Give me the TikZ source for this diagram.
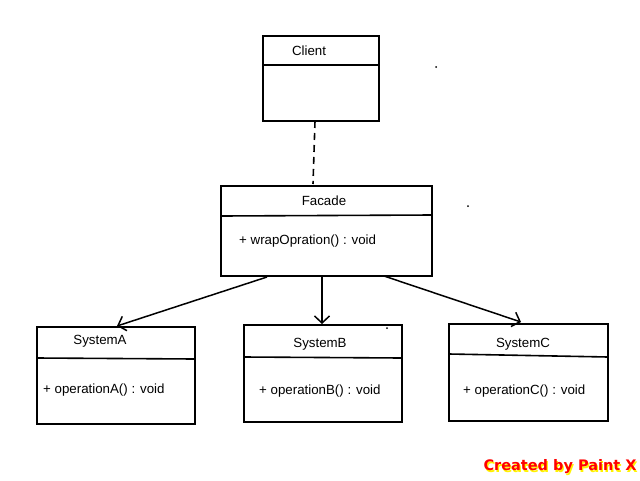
\documentclass[tikz,border=0pt]{standalone}
\usepackage{fontspec}
\setmainfont{Liberation Sans}
\newfontfamily\wmfont{DejaVu Sans}
\usetikzlibrary{arrows.meta}
\begin{document}
\begin{tikzpicture}[x=1pt,y=-1pt,
  box/.style={draw,line width=1.6pt},
  lbl/.style={font=\fontsize{13.3}{15}\selectfont,inner sep=0pt},
  arr/.style={line width=1.5pt,-{Straight Barb[length=7pt,width=15pt,line width=1.5pt]}},
  dotm/.style={fill,circle,inner sep=0pt,minimum size=2pt},
  wm/.style={font=\wmfont\bfseries\fontsize{14.5}{16}\selectfont,inner sep=0pt}]
\useasboundingbox (0,0) rectangle (640,480);
% Client
\draw[box] (263,36) rectangle (379,121);
\draw[box] (263,65) -- (379,65);
\node[lbl] (client) at (309,51) {Client};
\coordinate (cb) at (315,121);
% Facade
\draw[box] (221,186) rectangle (432,276);
\draw[box] (221,216) -- (432,215);
\node[lbl] (facade) at (324,201) {Facade};
\node[lbl,anchor=west] (wrap) at (239,241) {+ wrapOpration() : void};
\coordinate (ft) at (313,184);
% SystemA
\draw[box] (37,327) rectangle (195,424);
\draw[box] (37,358) -- (195,359);
\node[lbl] (sa) at (100,341) {SystemA};
\node[lbl,anchor=west] (opa) at (43,390) {+ operationA() : void};
% SystemB
\draw[box] (244,325) rectangle (402,422);
\draw[box] (244,357) -- (402,358);
\node[lbl] (sb) at (320,344) {SystemB};
\node[lbl,anchor=west] (opb) at (259,391) {+ operationB() : void};
% SystemC
\draw[box] (449,324) rectangle (608,421);
\draw[box] (449,354) -- (608,357);
\node[lbl] (sc) at (523,344) {SystemC};
\node[lbl,anchor=west] (opc) at (463,391) {+ operationC() : void};
% connectors
\draw[line width=1.6pt,dash pattern=on 7pt off 5pt] (cb) -- (ft);
\coordinate (fa) at (267,277);
\coordinate (fb) at (322,277);
\coordinate (fc) at (384,276);
\coordinate (ta) at (117,326);
\coordinate (tb) at (322,324);
\coordinate (tc) at (521,322);
\draw[arr] (fa) -- (ta);
\draw[arr] (fb) -- (tb);
\draw[arr] (fc) -- (tc);
% stray dots
\node[dotm] (d1) at (436,67) {};
\node[dotm] (d2) at (468,206) {};
\node[dotm] (d3) at (387,328) {};
% watermark
\node[wm,text=yellow] (wm2) at (561.3,468.3) {Created by Paint X};
\node[wm,text=red] (wm1) at (560,467) {Created by Paint X};
\end{tikzpicture}
\end{document}
